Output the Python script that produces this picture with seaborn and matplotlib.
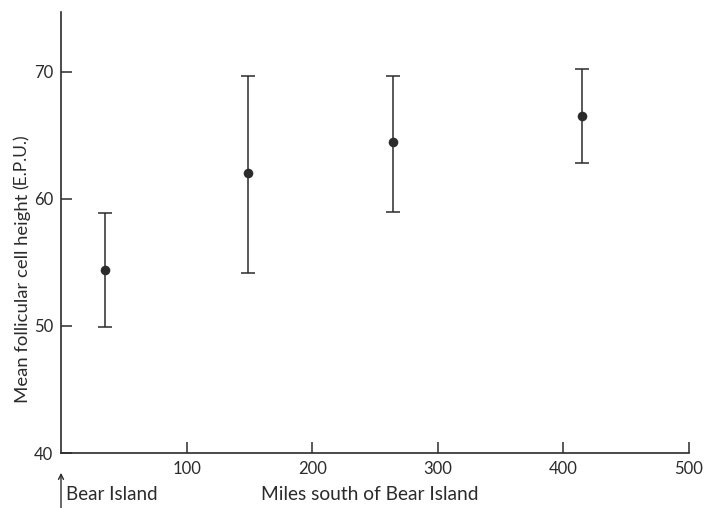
import matplotlib
matplotlib.use("Agg")
import matplotlib.pyplot as plt
import seaborn as sns
import pandas as pd

# Data
miles = [35, 149, 264, 415]
mean_height = [54.4, 62.0, 64.5, 66.5]
err_low = [49.9, 54.2, 59.0, 62.8]
err_high = [58.9, 69.7, 69.7, 70.2]
x_ticks = [100, 200, 300, 400, 500]
y_ticks = [40, 50, 60, 70]

df = pd.DataFrame({"miles": miles, "mean": mean_height, "lo": err_low, "hi": err_high})

sns.set_theme(style="ticks")
plt.rcParams["font.family"] = ["Lato", "DejaVu Sans"]

ink = "#2b2b2b"
fig = plt.figure(figsize=(7.06, 5.08), dpi=100)
ax = fig.add_axes([61 / 706, 1 - 453 / 508, (689 - 61) / 706, (453 - 12) / 508])

yerr = [df["mean"] - df["lo"], df["hi"] - df["mean"]]
ax.errorbar(df["miles"], df["mean"], yerr=yerr, fmt="none", ecolor=ink,
            elinewidth=1.1, capsize=5, capthick=1.1, zorder=2)
sns.scatterplot(data=df, x="miles", y="mean", ax=ax, color=ink, s=48,
                edgecolor=ink, linewidth=0, zorder=3, legend=False)

ax.set_xlim(0, 500)
ax.set_ylim(40, 74.7)
ax.set_xticks(x_ticks)
ax.set_yticks(y_ticks)
ax.set_xticklabels([str(v) for v in x_ticks])
ax.set_yticklabels([str(v) for v in y_ticks])
ax.tick_params(axis="both", direction="in", length=8, width=1.1, colors=ink,
               labelsize=12, labelcolor=ink, pad=6)
ax.tick_params(axis="y", pad=5.5)
for side in ["top", "right"]:
    ax.spines[side].set_visible(False)
for side in ["left", "bottom"]:
    ax.spines[side].set_color(ink)
    ax.spines[side].set_linewidth(1.2)
ax.set_xlabel("")
ax.set_ylabel("")

# Axis titles
fig.text(370 / 706, 1 - 494 / 508, "Miles south of Bear Island", ha="center", va="center",
         fontsize=13.8, color=ink)
fig.text(66 / 706, 1 - 494 / 508, "Bear Island", ha="left", va="center",
         fontsize=13.5, color=ink)
fig.text(23 / 706, 1 - 298 / 508, "Mean follicular cell height", rotation=90,
         ha="center", va="center", fontsize=13.3, color=ink)
fig.text(22 / 706, 1 - 162 / 508, "(E.P.U.)", rotation=90,
         ha="center", va="center", fontsize=12.5, color=ink)

# Arrow pointing to the origin (Bear Island)
ax.annotate("", xy=(0, -0.045), xycoords=("data", "axes fraction"),
            xytext=(0, -0.145), textcoords=("data", "axes fraction"),
            arrowprops=dict(arrowstyle="->", color=ink, lw=1.0,
                            mutation_scale=9, shrinkA=0, shrinkB=0),
            annotation_clip=False)

fig.savefig("out.png", dpi=100, facecolor="white")
